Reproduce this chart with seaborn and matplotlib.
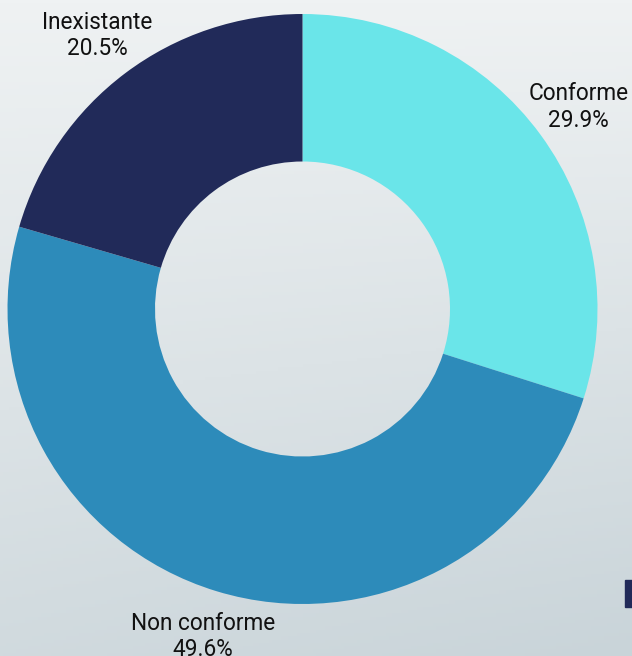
import matplotlib
matplotlib.use("Agg")
import matplotlib.pyplot as plt
import seaborn as sns
import numpy as np
from matplotlib.patches import Rectangle

# data
categories = ["Conforme", "Non conforme", "Inexistante"]
shares = [29.9, 49.6, 20.5]
colors = ["#6ae5e9", "#2d8bba", "#212a59"]

sns.set_style("white")
plt.rcParams['font.family'] = ['Roboto', 'DejaVu Sans']

fig = plt.figure(figsize=(6.32, 6.56), dpi=100)

# background gradient (light top-left -> grey-blue bottom-right)
bg = fig.add_axes([0, 0, 1, 1], zorder=-1)
bg.axis("off")
top = np.array([0xef, 0xf2, 0xf3]) / 255
bottom = np.array([0xc9, 0xd4, 0xd9]) / 255
yy, xx = np.mgrid[0:1:200j, 0:1:200j]
t = np.clip(0.8 * yy + 0.2 * xx * yy, 0, 1)[..., None]
img = top + (bottom - top) * t
bg.imshow(img, aspect="auto", extent=[0, 1, 0, 1], origin="upper")
bg.set_xlim(0, 1)
bg.set_ylim(0, 1)

# small cut-off legend marker at the right edge
fig.patches.append(Rectangle((625 / 632, 1 - 607 / 656), 10 / 632, 27 / 656,
                             transform=fig.transFigure, color="#212a59", zorder=5))

ax = fig.add_axes([7.5 / 632, 52 / 656, 590 / 632, 590 / 656])
labels = ["{}\n{:.1f}%".format(c, v) for c, v in zip(categories, shares)]
wedges, texts = ax.pie(shares, colors=sns.color_palette(colors), startangle=90,
                       counterclock=False, radius=1,
                       wedgeprops=dict(width=0.5, linewidth=0),
                       labels=labels, labeldistance=1.16,
                       textprops=dict(ha="center", va="center", fontsize=16.3,
                                      color="#111111", linespacing=1.2))
ax.set_xlim(-1, 1)
ax.set_ylim(-1, 1)
ax.axis("off")

fig.savefig("out.png", dpi=100)
